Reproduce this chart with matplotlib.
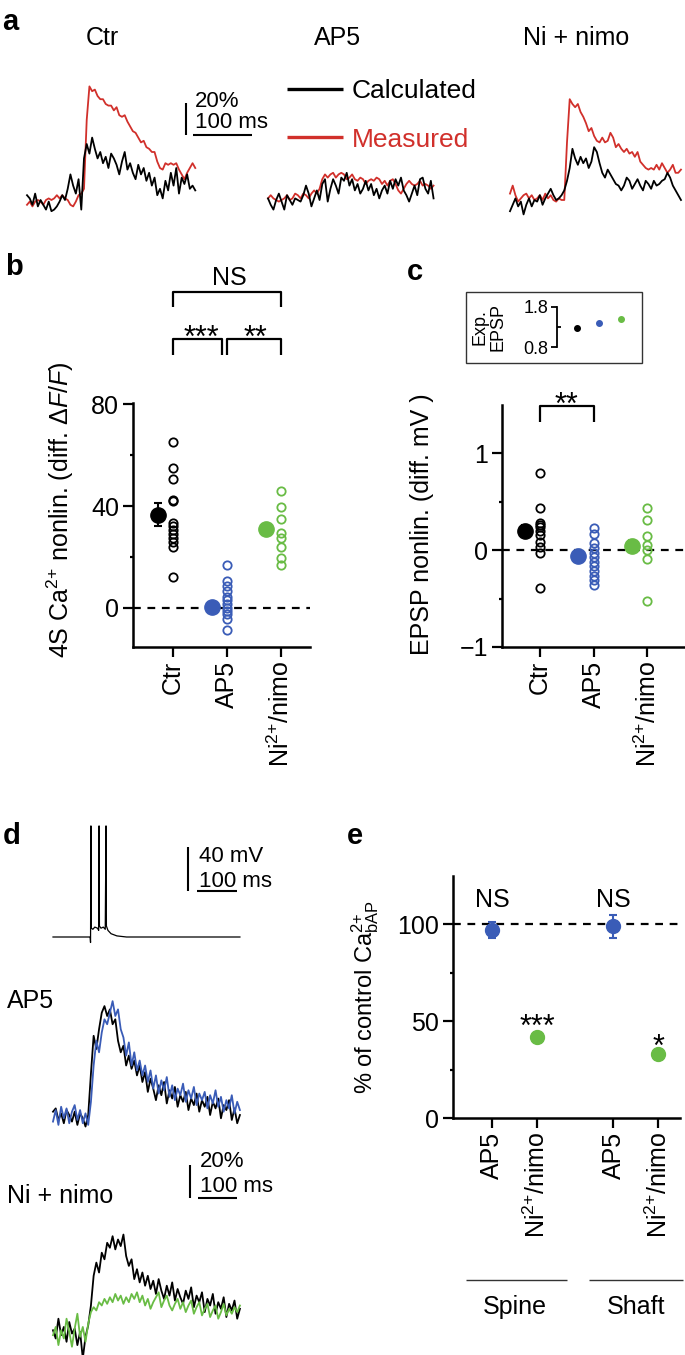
import numpy as np
import matplotlib
matplotlib.use('Agg')
import matplotlib.pyplot as plt
from matplotlib.lines import Line2D
from matplotlib.patches import Rectangle

plt.rcParams['font.family'] = ['Liberation Sans', 'DejaVu Sans']
plt.rcParams['mathtext.fontset'] = 'custom'
plt.rcParams['mathtext.rm'] = 'Liberation Sans'
plt.rcParams['mathtext.it'] = 'Liberation Sans:italic'
plt.rcParams['mathtext.bf'] = 'Liberation Sans:bold'

BLACK = '#000000'
RED = '#d1302b'
BLUE = '#3a5cb7'
GREEN = '#69bc45'

# ---------------- data ----------------
# panel a : spine Ca2+ transients (% dF/F), one sample every A_DT ms
A_DT = 4.6
a_titles = ['Ctr', 'AP5', 'Ni + nimo']
a_ctr_meas = [-3, -1, -4, -1, 0, -1, -3, 0, 1, 0, 1, 3, 1, 3, 1, 0, -3, -4, -1, 3, 4,
              7, 50, 71, 68, 69, 65, 63, 63, 60, 59, 59, 56, 58, 53, 52, 53, 49, 46, 43, 42,
              39, 36, 37, 33, 32, 30, 30, 24, 20, 19, 23, 22, 23, 22, 23, 19, 16, 13, 17, 20, 23, 20]
a_ctr_calc = [3, 1, -3, 4, -4, 0, -3, -6, -1, -7, -6, -4, -1, 3, 0, 7, 16, 9, 4, 13, -6,
              26, 35, 29, 39, 32, 26, 30, 23, 27, 20, 29, 26, 22, 16, 24, 30, 19, 23, 17, 13,
              22, 16, 20, 12, 17, 9, 14, 3, 7, 1, 12, 6, 17, 9, 20, 4, 14, 10, 16, 7, 9, 6]
a_ap5_meas = [1, 3, 1, 0, -1, 0, 1, 3, 0, 1, 4, 3, 1, 4, 3, 1, 4, 6, 4, 7,
              13, 16, 14, 16, 17, 14, 16, 17, 16, 13, 14, 16, 13, 12, 14, 13, 10, 12, 13, 12,
              14, 13, 10, 12, 9, 12, 13, 10, 6, 4, 7, 10, 12, 10, 9, 10, 12, 9, 10, 9, 7, 9]
a_ap5_calc = [1, -3, -6, 0, 4, -1, -6, 3, 0, -3, 1, 0, -1, 3, 9, 4, -4, 1, 6, 0,
              10, 13, -1, 7, 13, 9, 4, 14, 12, 17, 9, 13, 6, 10, 4, 7, 12, 6, 10, 3,
              7, 1, 6, 9, 4, 12, 7, 13, 9, 14, 6, 3, -1, 4, 9, 3, 13, 14, 7, 4, 12, 1]
a_ni_meas = [4, 9, 3, -1, 1, 3, 4, 1, 3, 0, 1, 3, 0, 4, 1, 3, 0, -1, 1, 0, 0,
             36, 63, 60, 58, 60, 55, 52, 48, 43, 45, 40, 37, 36, 39, 36, 37, 42, 39, 33, 35,
             32, 30, 32, 29, 30, 27, 30, 24, 22, 20, 19, 20, 19, 22, 19, 23, 20, 17, 19, 22, 17, 17, 19]
a_ni_calc = [-7, -3, 1, -4, -1, -9, -3, 1, -4, 0, -1, 3, -3, 1, 4, 7, 3, 0, 1, 3, 6,
             12, 20, 32, 26, 22, 27, 23, 26, 20, 24, 33, 30, 23, 17, 14, 19, 16, 13, 10, 9,
             6, 9, 14, 12, 7, 10, 13, 9, 6, 12, 10, 7, 12, 9, 10, 12, 13, 17, 14, 9, 6, 3, 0]

# panel b : 4S Ca2+ nonlinearity (diff. dF/F)
b_cats = ['Ctr', 'AP5', r'Ni$^{2{+}}$/nimo']
b_ctr = [65, 55, 50.5, 42.5, 42, 33.5, 32, 30.5, 29, 27.5, 26, 24, 12]
b_ap5 = [17, 10.5, 8.5, 6.5, 4.5, 3, 1.5, 0, -1, -2.5, -4.5, -8.5]
b_ni = [46, 39.5, 35, 29.5, 27.5, 24, 19.5, 17]
b_mean = [36.5, 0.5, 31]
b_sem = [4.5, 1.0, 2.0]

# panel c : EPSP nonlinearity (diff. mV) + inset expected EPSP
c_cats = ['Ctr', 'AP5', r'Ni$^{2{+}}$/nimo']
c_ctr = [0.79, 0.43, 0.28, 0.26, 0.24, 0.2, 0.15, 0.08, 0.03, -0.03, -0.39]
c_ap5 = [0.23, 0.17, 0.07, 0.02, -0.03, -0.07, -0.12, -0.17, -0.22, -0.27, -0.31, -0.36]
c_ni = [0.43, 0.31, 0.14, 0.05, 0.0, -0.09, -0.53]
c_mean = [0.2, -0.06, 0.04]
c_sem = [0.06, 0.04, 0.06]
c_exp_mean = [1.27, 1.39, 1.50]
c_exp_sem = [0.05, 0.05, 0.05]

# panel d : bAP burst (mV) and bAP Ca2+ transients (% dF/F), one sample every D_DT ms
d_spike_t = [0, 96, 97, 98, 99, 103, 108, 115, 118, 119, 120, 124, 130, 135, 137, 138,
             142, 150, 165, 190, 483]
d_spike_mv = [-70, -70, -75, 31, -62, -63, -61, -62, -64, 31, -60, -62, -61, -63, 31, -60,
              -64, -67, -69, -70, -70]
D_DT = 7.0
d_ap5_ctr = [2, 4, -3, 1, -5, 3, 0, -4, 2, -6, 1, -2, -7, 0,
             25, 48, 40, 52, 62, 66, 60, 64, 55, 58, 45, 38, 42, 30, 36, 28, 33, 24, 30, 20,
             26, 14, 22, 16, 9, 18, 12, 20, 7, 15, 10, 17, 5, 12, 8, 14, 3, 10, 6, 13,
             2, 9, 5, 11, 0, 8, 4, 10, -2, 6, 3, 9, -3, 4, -5, 0]
d_ap5_drug = [-4, 3, -6, 5, -2, 4, -5, 2, 6, -3, 3, -5, 1, -6,
              8, 30, 45, 38, 50, 58, 55, 62, 69, 60, 64, 52, 47, 36, 44, 30, 38, 27, 33, 24,
              30, 20, 27, 16, 24, 13, 21, 15, 23, 11, 18, 9, 16, 12, 19, 8, 15, 10, 17, 6,
              13, 9, 14, 4, 12, 7, 15, 5, 11, 2, 9, 4, 12, 1, 8, 3]
d_ni_ctr = [-5, -10, 2, -8, -3, -12, 0, -7, -4, -14, -6, -22, -9, -2,
            10, 28, 36, 30, 42, 38, 48, 45, 52, 44, 50, 46, 53, 40, 34, 38, 26, 32, 24, 30,
            22, 28, 20, 25, 17, 26, 19, 14, 22, 16, 24, 13, 20, 15, 11, 19, 14, 21, 9, 16,
            12, 18, 6, 14, 10, 17, 5, 12, 8, 15, 3, 11, 7, 13, 2, 8]
d_ni_drug = [-8, -3, -14, -5, -10, 2, -6, -15, -4, 5, -9, -3, -12, -1,
             6, 9, 7, 12, 10, 14, 11, 15, 12, 17, 13, 16, 11, 15, 12, 17, 14, 18, 12, 16,
             10, 14, 8, 12, 15, 18, 9, 13, 16, 10, 7, 11, 14, 8, 12, 6, 10, 13, 5, 9,
             12, 4, 8, 11, 3, 7, 10, 2, 6, 11, 4, 8, 5, 9, 6, 10]

# panel e : % of control bAP Ca2+
e_cats = ['AP5', r'Ni$^{2{+}}$/nimo', 'AP5', r'Ni$^{2{+}}$/nimo']
e_mean = [97, 42, 99, 33]
e_sem = [4, 1.5, 6, 1.5]
e_sig = ['NS', '***', 'NS', '*']
e_groups = ['Spine', 'Shaft']

# ---------------- figure helpers ----------------
W, H = 685, 1355
fig = plt.figure(figsize=(W / 100, H / 100), dpi=100)


def px_axes(x0, y0, x1, y1):
    return fig.add_axes([x0 / W, 1 - y1 / H, (x1 - x0) / W, (y1 - y0) / H])


def ftext(x, y, s, **kw):
    return fig.text(x / W, 1 - y / H, s, **kw)


def fline(xs, ys, **kw):
    fig.add_artist(Line2D([x / W for x in xs], [1 - y / H for y in ys],
                          transform=fig.transFigure, solid_capstyle='butt', **kw))


def trace_axes(x0, n, dt, px_ms, baseline, px_unit, ytop, ybot):
    width = (n - 1) * dt * px_ms
    ax = px_axes(x0, ytop, x0 + width, ybot)
    ax.set_xlim(0, (n - 1) * dt)
    ax.set_ylim(-(ybot - baseline) / px_unit, (baseline - ytop) / px_unit)
    ax.axis('off')
    return ax


def style_axes(ax):
    for s in ['top', 'right']:
        ax.spines[s].set_visible(False)
    for s in ['left', 'bottom']:
        ax.spines[s].set_linewidth(1.8)
    ax.tick_params(which='major', length=7, width=1.6, labelsize=18, pad=3)
    ax.tick_params(which='minor', length=2.5, width=1.6)
    ax.patch.set_alpha(0)


DASH = (0, (3.5, 3))
LETTER = dict(fontsize=21, fontweight='bold', va='baseline', ha='left')

# ---------------- panel a ----------------
ftext(2, 30, 'a', **LETTER)
for x0, title, calc, meas in [(27, a_titles[0], a_ctr_calc, a_ctr_meas),
                              (268, a_titles[1], a_ap5_calc, a_ap5_meas),
                              (510, a_titles[2], a_ni_calc, a_ni_meas)]:
    ax = trace_axes(x0, len(calc), A_DT, 0.59, 200, 1.6, 60, 230)
    t = np.arange(len(calc)) * A_DT
    ax.plot(t, meas, color=RED, lw=1.3, clip_on=False)
    ax.plot(t, calc, color=BLACK, lw=1.3, clip_on=False)
ftext(102, 45, a_titles[0], ha='center', va='baseline', fontsize=18)
ftext(338, 45, a_titles[1], ha='center', va='baseline', fontsize=18)
ftext(576, 45, a_titles[2], ha='center', va='baseline', fontsize=18)
# scale bar
fline([186, 186], [103, 135], color=BLACK, lw=1.5)
fline([193, 252], [135, 135], color=BLACK, lw=1.5)
ftext(195, 107, '20%', va='baseline', fontsize=16)
ftext(195, 128, '100 ms', va='baseline', fontsize=16)
# legend
fline([287, 343], [89, 89], color=BLACK, lw=2.4)
fline([287, 343], [137, 137], color=RED, lw=2.4)
ftext(352, 98, 'Calculated', va='baseline', fontsize=19)
ftext(352, 147, 'Measured', va='baseline', fontsize=19, color=RED)

# ---------------- panel b ----------------
ftext(5, 275, 'b', **LETTER)
ax = px_axes(133, 403, 310, 647)
style_axes(ax)
ax.set_xlim(-0.74, 2.54)
ax.set_ylim(-15.3, 80.4)
ax.axhline(0, color=BLACK, lw=1.6, ls=DASH, zorder=1)
for i, (vals, col) in enumerate([(b_ctr, BLACK), (b_ap5, BLUE), (b_ni, GREEN)]):
    ax.plot(np.full(len(vals), i), vals, 'o', mfc='none', mec=col, ms=6, mew=1.3, zorder=3,
            clip_on=False)
    ax.errorbar(i - 0.28, b_mean[i], yerr=b_sem[i], fmt='o', color=col, ms=11,
                elinewidth=1.5, capsize=3, capthick=1.5, zorder=4, clip_on=False)
ax.set_yticks([0, 40, 80])
ax.set_yticks([20, 60], minor=True)
ax.set_xticks(range(3))
ax.set_xticklabels(b_cats, rotation=90, ha='center', va='top')
ftext(60, 510, r'4S Ca$^{2{+}}$ nonlin. (diff. $\mathit{\Delta F/F}$)', rotation=90,
      ha='center', va='center', fontsize=18)
# significance brackets
bk = dict(color=BLACK, lw=1.6, clip_on=False, solid_capstyle='butt')
ax.plot([0, 0, 2, 2], [118, 124, 124, 118], **bk)
ax.plot([0, 0, 0.9, 0.9], [99.2, 105.4, 105.4, 99.2], **bk)
ax.plot([1, 1, 2, 2], [99.2, 105.4, 105.4, 99.2], **bk)
ax.text(1.05, 126.7, 'NS', ha='center', va='baseline', fontsize=18)
ax.text(0.53, 102.3, '***', ha='center', va='baseline', fontsize=22)
ax.text(1.52, 102.3, '**', ha='center', va='baseline', fontsize=22)

# ---------------- panel c ----------------
ftext(407, 280, 'c', **LETTER)
ax = px_axes(502, 405, 685, 647)
style_axes(ax)
ax.set_xlim(-0.7, 2.7)
ax.set_ylim(-1, 1.495)
ax.axhline(0, color=BLACK, lw=1.6, ls=DASH, zorder=1)
for i, (vals, col) in enumerate([(c_ctr, BLACK), (c_ap5, BLUE), (c_ni, GREEN)]):
    ax.plot(np.full(len(vals), i), vals, 'o', mfc='none', mec=col, ms=6, mew=1.3, zorder=3,
            clip_on=False)
    ax.errorbar(i - 0.28, c_mean[i], yerr=c_sem[i], fmt='o', color=col, ms=11,
                elinewidth=1.5, capsize=3, capthick=1.5, zorder=4, clip_on=False)
ax.set_yticks([-1, 0, 1])
ax.set_yticks([-0.5, 0.5], minor=True)
ax.set_xticks(range(3))
ax.set_xticklabels(c_cats, rotation=90, ha='center', va='top')
ftext(422, 524, 'EPSP nonlin. (diff. mV )', rotation=90, ha='center', va='center', fontsize=18)
ax.plot([0, 0, 1, 1], [1.32, 1.48, 1.48, 1.32], **bk)
ax.text(0.5, 1.40, '**', ha='center', va='baseline', fontsize=22)
# inset: expected EPSP
fig.add_artist(Rectangle((466 / W, 1 - 363 / H), (642 - 466) / W, (363 - 292) / H,
                         transform=fig.transFigure, fill=False, ec='#333333', lw=1.0))
axi = px_axes(557, 300, 640, 355)
axi.patch.set_alpha(0)
for s in ['top', 'right', 'bottom']:
    axi.spines[s].set_visible(False)
axi.spines['left'].set_linewidth(1.3)
axi.spines['left'].set_bounds(0.8, 1.8)
axi.set_xlim(-0.91, 2.86)
axi.set_ylim(0.605, 1.97)
axi.set_xticks([])
axi.set_yticks([0.8, 1.8])
axi.set_yticklabels(['0.8', '1.8'])
axi.set_yticks([1.3], minor=True)
axi.tick_params(which='major', length=4, width=1.3, labelsize=13, pad=2)
axi.tick_params(which='minor', direction='in', length=3, width=1.3)
for i, col in enumerate([BLACK, BLUE, GREEN]):
    axi.errorbar(i, c_exp_mean[i], yerr=c_exp_sem[i], fmt='o', color=col, ms=4,
                 elinewidth=1.2, capsize=0)
ftext(489, 327, 'Exp.\nEPSP', rotation=90, ha='center', va='center', fontsize=13,
      linespacing=1.0, multialignment='center')

# ---------------- panel d ----------------
ftext(3, 844, 'd', **LETTER)
ax = px_axes(53, 815, 53 + 483 * 0.387, 945)
ax.set_xlim(0, 483)
ax.set_ylim(-70 - (945 - 937) / 1.1, -70 + (937 - 815) / 1.1)
ax.axis('off')
ax.plot(d_spike_t, d_spike_mv, color=BLACK, lw=0.9, clip_on=False)
fline([188, 188], [847, 891], color=BLACK, lw=1.5)
fline([197, 237], [891, 891], color=BLACK, lw=1.5)
ftext(199, 862, '40 mV', va='baseline', fontsize=16)
ftext(199, 887, '100 ms', va='baseline', fontsize=16)

ftext(7, 1008, 'AP5', va='baseline', fontsize=18)
ax = trace_axes(53, len(d_ap5_ctr), D_DT, 0.387, 1115, 1.65, 990, 1140)
t = np.arange(len(d_ap5_ctr)) * D_DT
ax.plot(t, d_ap5_ctr, color=BLACK, lw=1.3, clip_on=False)
ax.plot(t, d_ap5_drug, color=BLUE, lw=1.3, clip_on=False)

fline([190, 190], [1165, 1198], color=BLACK, lw=1.5)
fline([198, 237], [1198, 1198], color=BLACK, lw=1.5)
ftext(200, 1167, '20%', va='baseline', fontsize=16)
ftext(200, 1192, '100 ms', va='baseline', fontsize=16)
ftext(7, 1203, 'Ni + nimo', va='baseline', fontsize=18)
ax = trace_axes(53, len(d_ni_ctr), D_DT, 0.387, 1322, 1.65, 1220, 1355)
t = np.arange(len(d_ni_ctr)) * D_DT
ax.plot(t, d_ni_ctr, color=BLACK, lw=1.3, clip_on=False)
ax.plot(t, d_ni_drug, color=GREEN, lw=1.3, clip_on=False)

# ---------------- panel e ----------------
ftext(347, 844, 'e', **LETTER)
ax = px_axes(453, 876, 680, 1118)
style_axes(ax)
e_pos = [0, 1, 2.7, 3.7]
ax.set_xlim(-0.87, 4.18)
ax.set_ylim(0, 125)
ax.axhline(100, color=BLACK, lw=1.6, ls=DASH, zorder=1)
for i in range(4):
    col = BLUE if i % 2 == 0 else GREEN
    ax.errorbar(e_pos[i], e_mean[i], yerr=e_sem[i], fmt='o', color=col, ms=10,
                elinewidth=1.5, capsize=3, capthick=1.5, zorder=4)
ax.set_yticks([0, 50, 100])
ax.set_yticks([25, 75], minor=True)
ax.set_xticks(e_pos)
ax.set_xticklabels(e_cats, rotation=90, ha='center', va='top')
e_sig_y = [109, 42.6, 109, 32.3]
for i in range(4):
    fs = 18 if e_sig[i] == 'NS' else 22
    ax.text(e_pos[i], e_sig_y[i], e_sig[i], ha='center', va='baseline', fontsize=fs)
ftext(365, 997, r'% of control Ca$^{2{+}}_{\mathrm{bAP}}$', rotation=90, ha='center',
      va='center', fontsize=17)
fline([466, 567], [1280, 1280], color='#333333', lw=1.0)
fline([589, 683], [1280, 1280], color='#333333', lw=1.0)
ftext(515, 1314, e_groups[0], ha='center', va='baseline', fontsize=18)
ftext(636, 1314, e_groups[1], ha='center', va='baseline', fontsize=18)

fig.savefig('out.png', dpi=100)
